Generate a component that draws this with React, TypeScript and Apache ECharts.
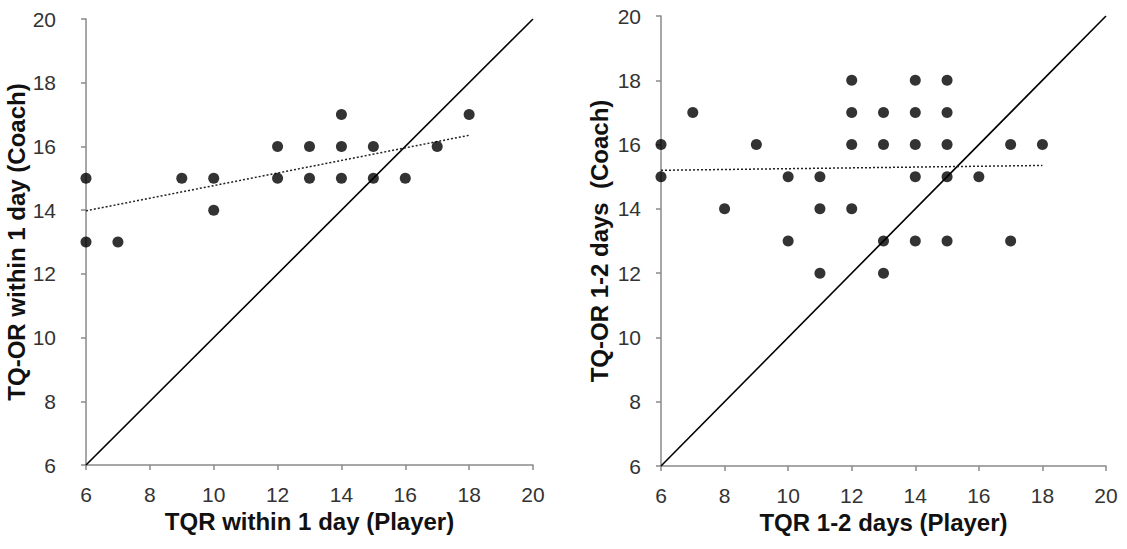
import React, { useEffect, useRef } from "react";
import * as echarts from "echarts";

// Left panel: TQR within 1 day (Player) vs TQ-OR within 1 day (Coach)
const leftPoints: [number, number][] = [
  [6, 15], [6, 13], [7, 13], [9, 15], [10, 15], [10, 14],
  [12, 16], [12, 15], [13, 16], [13, 15], [14, 17], [14, 16], [14, 15],
  [15, 16], [15, 15], [16, 15], [17, 16], [18, 17],
];
const leftTrend: [number, number][] = [[6, 13.98], [18, 16.35]];

// Right panel: TQR 1-2 days (Player) vs TQ-OR 1-2 days (Coach)
const rightPoints: [number, number][] = [
  [6, 16], [6, 15], [7, 17], [8, 14], [9, 16], [10, 15], [10, 13],
  [11, 15], [11, 14], [11, 12], [12, 18], [12, 17], [12, 16], [12, 14],
  [13, 17], [13, 16], [13, 13], [13, 12],
  [14, 18], [14, 17], [14, 16], [14, 15], [14, 13],
  [15, 18], [15, 17], [15, 16], [15, 15], [15, 13],
  [16, 15], [17, 16], [17, 13], [18, 16],
];
const rightTrend: [number, number][] = [[6, 15.2], [18, 15.35]];

const identityLine: [number, number][] = [[6, 6], [20, 20]];

const axisMin = 6;
const axisMax = 20;
const axisStep = 2;

const leftXTitle = "TQR within 1 day (Player)";
const leftYTitle = "TQ-OR within 1 day (Coach)";
const rightXTitle = "TQR 1-2 days (Player)";
const rightYTitle = "TQ-OR 1-2 days  (Coach)";

const FONT = "'Liberation Sans', Arial, sans-serif";

export default function App() {
  const ref = useRef<HTMLDivElement>(null);
  useEffect(() => {
    document.body.style.margin = "0";
    if (!ref.current) return;
    const chart = echarts.init(ref.current, undefined, { renderer: "svg" });
    const axisLine = { show: true, lineStyle: { color: "#8a8a8a", width: 1.5 } };
    const axisTick = { show: true, length: 5, inside: false, lineStyle: { color: "#8a8a8a", width: 1.5 } };
    const axisLabelBase = { color: "#333", fontSize: 21, fontFamily: FONT };
    const nameStyle = { color: "#111", fontSize: 24, fontWeight: "bold" as const, fontFamily: FONT };
    const xAxisCommon = (gridIndex: number, name: string) => ({
      type: "value" as const,
      gridIndex,
      min: axisMin,
      max: axisMax,
      interval: axisStep,
      splitLine: { show: false },
      axisLine,
      axisTick,
      axisLabel: { ...axisLabelBase, margin: 19 },
      name,
      nameLocation: "middle" as const,
      nameGap: 42,
      nameTextStyle: nameStyle,
    });
    const yAxisCommon = (gridIndex: number, name: string, margin: number, gap: number) => ({
      type: "value" as const,
      gridIndex,
      min: axisMin,
      max: axisMax,
      interval: axisStep,
      splitLine: { show: false },
      axisLine,
      axisTick,
      axisLabel: { ...axisLabelBase, margin },
      name,
      nameLocation: "middle" as const,
      nameGap: gap,
      nameTextStyle: nameStyle,
    });
    const scatterStyle = { color: "#000" };
    chart.setOption({
      animation: false,
      backgroundColor: "#fff",
      grid: [
        { left: 86, right: 594, top: 19, bottom: 84 },
        { left: 661, right: 21, top: 16, bottom: 83 },
      ],
      xAxis: [xAxisCommon(0, leftXTitle), xAxisCommon(1, rightXTitle)],
      yAxis: [yAxisCommon(0, leftYTitle, 30, 52), yAxisCommon(1, rightYTitle, 20, 50)],
      series: [
        {
          type: "line", xAxisIndex: 0, yAxisIndex: 0, data: identityLine,
          showSymbol: false, lineStyle: { color: "#000", width: 1.6 }, z: 2,
        },
        {
          type: "line", xAxisIndex: 0, yAxisIndex: 0, data: leftTrend,
          showSymbol: false, lineStyle: { color: "#222", width: 1.5, type: [2, 2] }, z: 2,
        },
        {
          type: "scatter", xAxisIndex: 0, yAxisIndex: 0, data: leftPoints,
          symbolSize: 11, itemStyle: scatterStyle, z: 3,
        },
        {
          type: "line", xAxisIndex: 1, yAxisIndex: 1, data: identityLine,
          showSymbol: false, lineStyle: { color: "#000", width: 1.6 }, z: 2,
        },
        {
          type: "line", xAxisIndex: 1, yAxisIndex: 1, data: rightTrend,
          showSymbol: false, lineStyle: { color: "#222", width: 1.5, type: [2, 2] }, z: 2,
        },
        {
          type: "scatter", xAxisIndex: 1, yAxisIndex: 1, data: rightPoints,
          symbolSize: 11, itemStyle: scatterStyle, z: 3,
        },
      ],
    });
    return () => chart.dispose();
  }, []);
  return <div ref={ref} style={{ width: 1127, height: 549 }} />;
}
